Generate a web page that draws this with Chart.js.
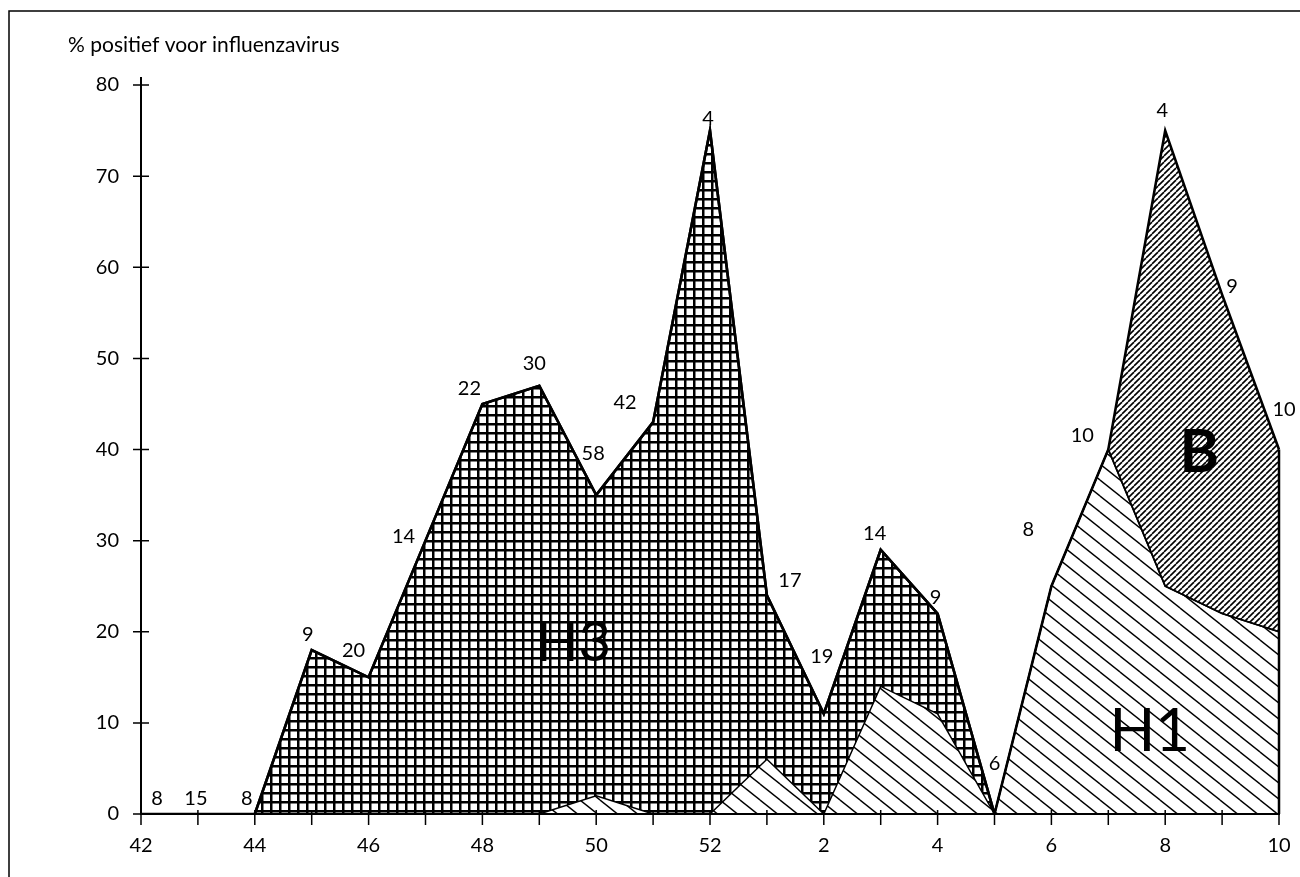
<!DOCTYPE html>
<html>
<head>
<meta charset="utf-8">
<script src="https://cdn.jsdelivr.net/npm/chart.js@4/dist/chart.umd.min.js"></script>
<style>
  html, body { margin: 0; padding: 0; background: #fff; }
  canvas { display: block; }
</style>
</head>
<body>
<canvas id="fluChart" width="1300" height="877"></canvas>
<script>
// weken (seizoen): 42..52 en 1..10
const weeks = ['42','43','44','45','46','47','48','49','50','51','52','1','2','3','4','5','6','7','8','9','10'];

// % positief per type (gestapeld)
const h1Values = [0,0,0,0,0,0,0,0,2,0,0,6,0,14,11,0,25,40,25,22,20];
const h3Values = [0,0,0,18,15,30,45,47,33,43,75,18,11,15,11,0,0,0,0,0,0];
const bValues  = [0,0,0,0,0,0,0,0,0,0,0,0,0,0,0,0,0,0,50,35,20];

// aantal onderzochte monsters per week
const sampleCounts = ['8','15','8','9','20','14','22','30','58','42','4','17','19','14','9','6','8','10','4','9','10'];

const yTickValues = [0,10,20,30,40,50,60,70,80];

// plaatsing van de aantallen t.o.v. het punt (px)
const countDx = [16,-2,-8,-4,-15,-22,-13,-5,-3,-28,-2,23,-2,-6,-2,0,-23,-26,-3,10,5];
const countDy = [-15,-15,-15,-15,-27,-4,-15,-22,-42,-20,-12,-15,-57,-16,-16,-50,-57,-14,-20,-8,-40];

const ctx = document.getElementById('fluChart').getContext('2d');

// arceringen
function makePattern(w, h, draw) {
  const c = document.createElement('canvas');
  c.width = w; c.height = h;
  const g = c.getContext('2d');
  draw(g, w, h);
  return ctx.createPattern(c, 'repeat');
}

const gridPattern = makePattern(9, 9, (g) => {
  g.fillStyle = '#000';
  g.fillRect(0, 0, 9, 2.5);
  g.fillRect(0, 0, 2.5, 9);
});

const h1Pattern = makePattern(20, 16, (g, w, h) => {
  g.strokeStyle = '#000';
  g.lineWidth = 1.4;
  [[0,0],[w,0],[-w,0],[0,h],[0,-h]].forEach(([ox, oy]) => {
    g.beginPath();
    g.moveTo(ox, oy);
    g.lineTo(ox + w, oy + h);
    g.stroke();
  });
});

const bPattern = makePattern(6, 6, (g, w, h) => {
  g.strokeStyle = '#000';
  g.lineWidth = 1.6;
  [[0,0],[w,0],[-w,0]].forEach(([ox, oy]) => {
    g.beginPath();
    g.moveTo(ox, oy + h);
    g.lineTo(ox + w, oy);
    g.stroke();
  });
});

// extra tekeningen: kader, titel, streepjes, aantallen, H3/H1/B
const decorPlugin = {
  id: 'decor',
  beforeDraw(chart) {
    const c = chart.ctx;
    c.save();
    c.fillStyle = '#fff';
    c.fillRect(0, 0, chart.width, chart.height);
    c.strokeStyle = '#000';
    c.lineWidth = 1.5;
    c.beginPath();
    c.moveTo(9, chart.height);
    c.lineTo(9, 11);
    c.lineTo(chart.width, 11);
    c.stroke();
    c.restore();
  },
  afterDatasetsDraw(chart) {
    const c = chart.ctx;
    const top = chart.getDatasetMeta(2).data;
    const xs = chart.scales.x, ys = chart.scales.y;
    c.save();
    // rechterrand van het vlak
    const last = top[top.length - 1];
    c.strokeStyle = '#000';
    c.lineWidth = 2.5;
    c.beginPath();
    c.moveTo(last.x, last.y);
    c.lineTo(last.x, ys.getPixelForValue(0));
    c.stroke();

    c.fillStyle = '#000';
    c.textAlign = 'center';
    c.textBaseline = 'middle';
    c.font = '20px Lato';
    sampleCounts.forEach((t, i) => {
      c.fillText(t, top[i].x + countDx[i], top[i].y + countDy[i]);
    });

    c.font = '56px Lato';
    c.fillText('H3', xs.getPixelForValue(7.6), ys.getPixelForValue(18.8));
    c.font = '60px Lato';
    c.fillText('H1', xs.getPixelForValue(17.73), ys.getPixelForValue(9));
    c.font = 'bold 60px Lato';
    c.fillText('B', xs.getPixelForValue(18.6), ys.getPixelForValue(39.6));
    c.restore();
  },
  afterDraw(chart) {
    const c = chart.ctx;
    const xs = chart.scales.x, ys = chart.scales.y;
    const area = chart.chartArea;
    c.save();
    c.strokeStyle = '#000';
    c.lineWidth = 1.5;
    c.beginPath();
    yTickValues.forEach((v) => {
      const y = ys.getPixelForValue(v);
      c.moveTo(area.left - 8, y);
      c.lineTo(area.left + 8, y);
    });
    weeks.forEach((w, i) => {
      const x = xs.getPixelForValue(i);
      c.moveTo(x, area.bottom - 4);
      c.lineTo(x, area.bottom + 11);
    });
    c.stroke();
    c.lineWidth = 2;
    c.beginPath();
    c.moveTo(area.left, area.top);
    c.lineTo(area.left, area.top - 8);
    c.stroke();

    c.fillStyle = '#000';
    c.font = '21px Lato';
    c.textAlign = 'left';
    c.textBaseline = 'alphabetic';
    c.fillText('% positief voor influenzavirus', 68, 52);
    c.restore();
  }
};

document.fonts.load('20px Lato').then(() => {
  new Chart(ctx, {
    type: 'line',
    data: {
      labels: weeks,
      datasets: [
        {
          label: 'H1',
          data: h1Values,
          borderColor: '#000',
          borderWidth: 1.5,
          backgroundColor: h1Pattern,
          fill: 'origin',
          pointRadius: 0,
          tension: 0
        },
        {
          label: 'H3',
          data: h3Values,
          borderColor: '#000',
          borderWidth: 2.6,
          backgroundColor: gridPattern,
          fill: '-1',
          pointRadius: 0,
          tension: 0,
          segment: {
            borderWidth: (s) => (s.p0.parsed.y === 0 && s.p1.parsed.y === 0) ? 1.8 : 2.6
          }
        },
        {
          label: 'B',
          data: bValues,
          borderColor: '#000',
          borderWidth: 2.6,
          backgroundColor: bPattern,
          fill: '-1',
          pointRadius: 0,
          tension: 0
        }
      ]
    },
    options: {
      responsive: false,
      animation: false,
      layout: { padding: { top: 85, right: 21, left: 0, bottom: 0 } },
      plugins: {
        legend: { display: false },
        tooltip: { enabled: false },
        title: { display: false }
      },
      scales: {
        x: {
          offset: false,
          grid: { drawOnChartArea: false, drawTicks: false },
          border: { color: '#000', width: 2 },
          ticks: {
            autoSkip: false,
            maxRotation: 0,
            padding: 20,
            color: '#000',
            font: { family: 'Lato', size: 20 },
            callback: (v, i) => (i % 2 === 0 ? weeks[i] : '')
          },
          afterFit: (s) => { s.height = 63; s.paddingLeft = 0; s.paddingRight = 0; }
        },
        y: {
          stacked: true,
          min: 0,
          max: 80,
          grid: { drawOnChartArea: false, drawTicks: false },
          border: { color: '#000', width: 2 },
          ticks: {
            stepSize: 10,
            padding: 22,
            color: '#000',
            font: { family: 'Lato', size: 20 }
          },
          afterFit: (s) => { s.width = 141; }
        }
      }
    },
    plugins: [decorPlugin]
  });
});
</script>
</body>
</html>
